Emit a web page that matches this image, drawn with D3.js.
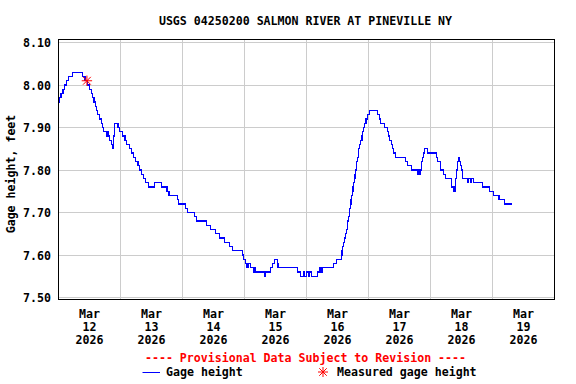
<!DOCTYPE html>
<html><head><meta charset="utf-8">
<script src="https://cdn.jsdelivr.net/npm/d3@7"></script>
<style>
body{margin:0;background:#fff}
svg{display:block}
text{font-family:"DejaVu Sans Mono",monospace;font-weight:bold;font-size:11.6px}
</style>
</head><body>
<svg id="chart" width="576" height="384"></svg>
<script>
const title = "USGS 04250200 SALMON RIVER AT PINEVILLE NY";
const yAxisTitle = "Gage height, feet";
const provisional = "---- Provisional Data Subject to Revision ----";
const legendLabels = ["Gage height", "Measured gage height"];
const yTicks = [7.50, 7.60, 7.70, 7.80, 7.90, 8.00, 8.10];
const monthLabel = "Mar";
const yearLabel = "2026";
const dayLabels = ["12", "13", "14", "15", "16", "17", "18", "19"];

// hours after 2026-03-12 00:00
const hours = [0,0.5,1.0,1.75,2.25,3.0,3.75,5.5,9.25,10.25,11.25,12.0,12.75,13.25,13.75,14.25,14.75,15.25,15.75,16.5,17.0,17.5,18.5,19.0,19.25,19.75,20.5,21.0,21.25,21.75,23.0,23.75,24.75,25.75,26.25,27.5,28.25,29.0,29.75,30.75,31.5,32.25,33.0,33.75,34.75,37.25,40.0,42.0,42.75,46.0,46.5,49.25,50.0,52.5,53.5,57.25,58.75,60.75,62.25,64.25,66.25,67.5,71.25,71.75,72.5,73.0,73.5,74.25,75.5,75.75,76.25,79.75,80.25,82.0,82.75,83.75,84.75,85.0,92.5,93.75,94.75,95.25,96.0,96.75,97.25,98.0,100.25,101.0,101.5,102.0,106.5,107.75,109.5,109.75,110.0,110.25,110.75,111.0,111.5,111.75,112.0,112.25,112.5,112.75,113.0,113.25,113.5,113.75,114.0,114.25,114.5,114.75,115.0,115.25,115.5,115.75,116.0,116.25,116.5,117.0,117.5,117.75,118.0,118.5,119.0,119.5,120.25,123.5,124.25,124.75,126.25,127.25,127.75,128.25,128.75,129.25,129.75,130.5,134.25,135.25,136.75,139.0,139.5,139.75,140.25,140.5,140.75,141.25,141.75,142.75,146.25,146.75,147.75,148.0,149.0,149.75,152.0,152.25,152.75,153.5,153.75,154.0,154.5,154.75,155.25,155.75,156.0,156.25,156.5,158.25,158.5,159.5,159.75,160.5,164.25,166.75,168.5,170.5,172.75,175.5];
const gage = [7.96,7.97,7.98,7.99,8.00,8.01,8.02,8.03,8.02,8.01,8.00,7.99,7.98,7.97,7.96,7.95,7.94,7.93,7.92,7.91,7.90,7.89,7.88,7.89,7.88,7.87,7.86,7.85,7.88,7.91,7.90,7.89,7.88,7.87,7.86,7.85,7.84,7.83,7.82,7.81,7.80,7.79,7.78,7.77,7.76,7.77,7.76,7.75,7.74,7.73,7.72,7.71,7.70,7.69,7.68,7.67,7.66,7.65,7.64,7.63,7.62,7.61,7.60,7.59,7.58,7.57,7.58,7.57,7.56,7.57,7.56,7.55,7.56,7.57,7.58,7.59,7.58,7.57,7.56,7.55,7.56,7.55,7.56,7.55,7.56,7.55,7.56,7.57,7.56,7.57,7.58,7.59,7.60,7.61,7.62,7.63,7.64,7.65,7.66,7.67,7.68,7.69,7.70,7.71,7.72,7.73,7.74,7.75,7.76,7.77,7.78,7.79,7.80,7.81,7.82,7.83,7.84,7.85,7.86,7.87,7.88,7.89,7.90,7.91,7.92,7.93,7.94,7.93,7.92,7.91,7.90,7.89,7.88,7.87,7.86,7.85,7.84,7.83,7.82,7.81,7.80,7.79,7.80,7.79,7.80,7.82,7.83,7.84,7.85,7.84,7.83,7.82,7.81,7.80,7.79,7.78,7.77,7.76,7.75,7.76,7.78,7.80,7.82,7.83,7.82,7.81,7.80,7.79,7.78,7.77,7.78,7.77,7.78,7.77,7.76,7.75,7.74,7.73,7.72,7.72];

const measuredHours = [11.0];
const measuredGage = [8.01];

const t0 = new Date(Date.UTC(2026, 2, 12));
const t1 = d3.utcDay.offset(t0, 8);
const toDate = h => new Date(t0.getTime() + h * 3600000);

const svg = d3.select("#chart");
const L = 58.5, R = 554.5, T = 39.5, B = 299.5;
const x = d3.scaleUtc().domain([t0, t1]).range([L, R]);
const y = d3.scaleLinear().domain([7.50, 8.10]).range([297.5, 42.5]);

// gridlines
const days = d3.utcDay.range(d3.utcDay.offset(t0, 1), t1);
svg.append("g").selectAll("line").data(days).join("line")
  .attr("x1", d => x(d)).attr("x2", d => x(d))
  .attr("y1", T).attr("y2", B)
  .attr("stroke", "#cccccc").attr("stroke-width", 1).attr("shape-rendering", "crispEdges");
svg.append("g").selectAll("line").data(yTicks).join("line")
  .attr("x1", L).attr("x2", R)
  .attr("y1", d => y(d)).attr("y2", d => y(d))
  .attr("stroke", "#cccccc").attr("stroke-width", 1).attr("shape-rendering", "crispEdges");

// data line
const line = d3.line()
  .x((d, i) => x(toDate(hours[i])))
  .y(d => y(d))
  .curve(d3.curveStepAfter);
svg.append("path").datum(gage)
  .attr("d", line)
  .attr("fill", "none").attr("stroke", "#0000ff").attr("stroke-width", 1.2)
  .attr("shape-rendering", "crispEdges");

// frame
svg.append("rect").attr("x", L).attr("y", T).attr("width", R - L).attr("height", B - T)
  .attr("fill", "none").attr("stroke", "#000").attr("stroke-width", 1).attr("shape-rendering", "crispEdges");

// asterisk
function asterisk(g, cx, cy, r) {
  const d = r * 0.75;
  const p = `M${cx - r},${cy}L${cx + r},${cy}M${cx},${cy - r}L${cx},${cy + r}` +
            `M${cx - d},${cy - d}L${cx + d},${cy + d}M${cx - d},${cy + d}L${cx + d},${cy - d}`;
  g.append("path").attr("d", p).attr("stroke", "#ff0000").attr("stroke-width", 1).attr("fill", "none");
}
measuredHours.forEach((h, i) => asterisk(svg, x(toDate(h)), y(measuredGage[i]), 5.2));

// y axis labels
const yAxis = d3.axisLeft(y).tickValues(yTicks).tickSize(0).tickPadding(7.5).tickFormat(d3.format(".2f"));
const gy = svg.append("g").attr("transform", `translate(${L},0)`).call(yAxis);
gy.select(".domain").remove();
gy.selectAll("text").attr("dy", null).attr("y", 4.3)
  .style("font-family", '"DejaVu Sans Mono",monospace').style("font-size", "11.6px")
  .style("font-weight", "bold").attr("fill", "#000");

// x axis labels
const noons = dayLabels.map((d, i) => d3.utcHour.offset(d3.utcDay.offset(t0, i), 12));
const xAxis = d3.axisBottom(x).tickValues(noons).tickSize(0).tickFormat(() => "");
const gx = svg.append("g").attr("transform", `translate(-0.5,${B})`).call(xAxis);
gx.select(".domain").remove();
gx.selectAll(".tick text").each(function (d, i) {
  const t = d3.select(this).attr("dy", null).attr("y", 0)
    .style("font-family", '"DejaVu Sans Mono",monospace').style("font-size", "11.6px")
    .style("font-weight", "bold").attr("fill", "#000");
  t.append("tspan").attr("x", 0).attr("y", 18.2).text(monthLabel);
  t.append("tspan").attr("x", 0).attr("y", 31.5).text(dayLabels[i]);
  t.append("tspan").attr("x", 0).attr("y", 44.7).text(yearLabel);
});

// title
svg.append("text").attr("x", 305.5).attr("y", 25).attr("text-anchor", "middle").text(title);

// y axis title
svg.append("text").attr("transform", "translate(15,174) rotate(-90)")
  .attr("text-anchor", "middle").text(yAxisTitle);

// provisional
svg.append("text").attr("x", 305.5).attr("y", 361.7).attr("text-anchor", "middle")
  .attr("fill", "#ff0000").text(provisional);

// legend
svg.append("line").attr("x1", 142.5).attr("x2", 160).attr("y1", 372.5).attr("y2", 372.5)
  .attr("stroke", "#0000ff").attr("stroke-width", 1);
svg.append("text").attr("x", 166).attr("y", 375.7).text(legendLabels[0]);
asterisk(svg, 323, 372, 5);
svg.append("text").attr("x", 337).attr("y", 375.7).text(legendLabels[1]);
</script>
</body></html>
